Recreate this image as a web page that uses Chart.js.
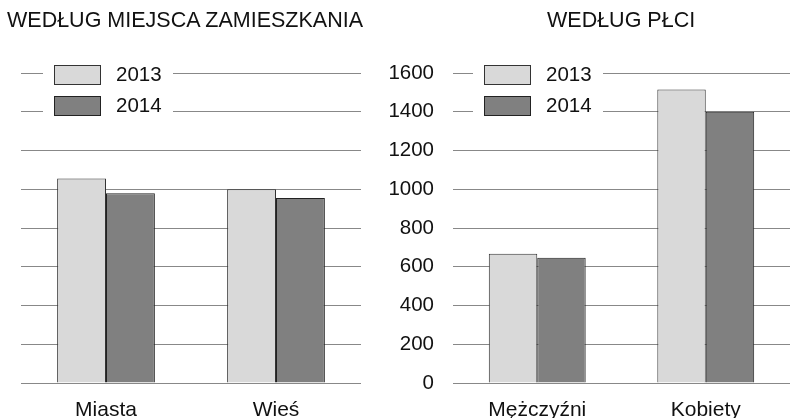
<!DOCTYPE html>
<html>
<head>
<meta charset="utf-8">
<script src="https://cdn.jsdelivr.net/npm/chart.js@4/dist/chart.umd.min.js"></script>
<style>
html,body{margin:0;padding:0;background:#fff;}
body{width:790px;height:418px;position:relative;overflow:hidden;font-family:"Liberation Sans",Arial,sans-serif;}
.title{position:absolute;top:10px;font-size:21.5px;line-height:21px;color:#111;white-space:nowrap;z-index:2;}
#wrapA{position:absolute;left:0;top:0;width:361px;height:418px;}
#wrapB{position:absolute;left:380px;top:0;width:410px;height:418px;}
</style>
</head>
<body>
<div id="wrapA"><canvas id="chartA" width="361" height="418"></canvas></div>
<div id="wrapB"><canvas id="chartB" width="410" height="418"></canvas></div>
<div class="title" style="left:7px">WEDŁUG MIEJSCA ZAMIESZKANIA</div>
<div class="title" style="left:547px">WEDŁUG PŁCI</div>
<script>
const years = ['2013', '2014'];
const placeCats = ['Miasta', 'Wieś'];
const place2013 = [1055, 1000];
const place2014 = [980, 955];
const sexCats = ['Mężczyźni', 'Kobiety'];
const sex2013 = [667, 1515];
const sex2014 = [646, 1400];
const yMin = 0, yMax = 1600, yStep = 200;

const FONT = '"Liberation Sans", Arial, sans-serif';
const fills = ['#d9d9d9', '#808080'];
const borders = ['#333', '#222'];

// legend drawn inside the plot, top-left, on a white patch over the gridlines
const insideLegend = {
  id: 'insideLegend',
  afterDraw(chart, args, opts){
    const ctx = chart.ctx;
    const x0 = Math.round(chart.chartArea.left + opts.offsetX);
    const y0 = 65;
    ctx.save();
    ctx.fillStyle = '#fff';
    ctx.fillRect(x0 - 11, y0 - 8, 130, 66);
    chart.data.datasets.forEach((ds, i) => {
      const y = y0 + i * 31;
      ctx.fillStyle = ds.backgroundColor;
      ctx.fillRect(x0 + 0.5, y + 0.5, 46, 19);
      ctx.strokeStyle = ds.borderColor;
      ctx.lineWidth = 1;
      ctx.strokeRect(x0 + 0.5, y + 0.5, 46, 19);
      ctx.fillStyle = '#111';
      ctx.font = '20.5px ' + FONT;
      ctx.textBaseline = 'middle';
      ctx.fillText(ds.label, x0 + 62, y + 10);
    });
    ctx.restore();
  }
};

function makeData(cats, a, b){
  return {
    labels: cats,
    datasets: [a, b].map((vals, i) => ({
      label: years[i],
      data: vals,
      backgroundColor: fills[i],
      borderColor: borders[i],
      borderWidth: 1,
      barPercentage: 1,
      categoryPercentage: 0.575
    }))
  };
}

function makeOptions(showY, yWidth, legendX){
  return {
    responsive: false,
    animation: false,
    devicePixelRatio: 1,
    layout: { padding: { top: 73, bottom: 0, left: 0, right: 0 } },
    plugins: {
      legend: { display: false },
      tooltip: { enabled: false },
      insideLegend: { offsetX: legendX }
    },
    scales: {
      x: {
        grid: { display: false },
        border: { display: false },
        ticks: { color: '#111', font: { family: FONT, size: 21 }, padding: 7 },
        afterFit(s){ s.height = 35; }
      },
      y: {
        min: yMin, max: yMax,
        border: { display: false },
        grid: { color: '#888', lineWidth: 1, drawTicks: false },
        ticks: {
          display: showY, stepSize: yStep, color: '#111',
          font: { family: FONT, size: 20.5 }, padding: 19,
          callback: v => String(v)
        },
        afterFit(s){ s.width = yWidth; }
      }
    }
  };
}

new Chart(document.getElementById('chartA'), {
  type: 'bar',
  data: makeData(placeCats, place2013, place2014),
  options: makeOptions(false, 21, 32.5),
  plugins: [insideLegend]
});

new Chart(document.getElementById('chartB'), {
  type: 'bar',
  data: makeData(sexCats, sex2013, sex2014),
  options: makeOptions(true, 73, 30.5),
  plugins: [insideLegend]
});
</script>
</body>
</html>
